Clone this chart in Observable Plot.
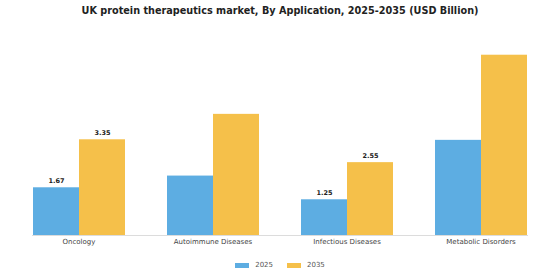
<!DOCTYPE html>
<html><head><meta charset="utf-8">
<script src="https://cdn.jsdelivr.net/npm/d3@7"></script>
<script src="https://cdn.jsdelivr.net/npm/@observablehq/plot@0.6"></script>
<style>
body{margin:0;background:#fff;font-family:"DejaVu Sans",sans-serif;width:560px;}
#title{height:22px;line-height:22px;text-align:center;font-weight:bold;font-size:9.7px;color:#222;}
#legend{height:26px;display:flex;justify-content:center;align-items:center;font-size:7px;color:#555;}
.item{display:flex;align-items:center;margin:0 7px;}
.sw{width:14px;height:5px;margin-right:6px;}
</style></head><body>
<div id="title">UK protein therapeutics market, By Application, 2025-2035 (USD Billion)</div>
<div id="chart"></div>
<div id="legend"></div>
<script>
const categories = ["Oncology", "Autoimmune Diseases", "Infectious Diseases", "Metabolic Disorders"];
const years = ["2025", "2035"];
const values2025 = [1.67, 2.08, 1.25, 3.33];
const values2035 = [3.35, 4.24, 2.55, 6.31];
const labelledCategories = ["Oncology", "Infectious Diseases"];
const colors = ["#5DADE2", "#F5C04A"];

const data = categories.flatMap((c, i) => [
  {category: c, year: years[0], value: values2025[i]},
  {category: c, year: years[1], value: values2035[i]}
]);

const chart = Plot.plot({
  width: 560, height: 230,
  marginLeft: 7, marginRight: 7, marginTop: 13, marginBottom: 17,
  fx: {domain: categories, paddingInner: 0.305, paddingOuter: 0.185, label: null},
  x: {domain: years, padding: 0, axis: null},
  y: {domain: [0, 7], axis: null},
  color: {domain: years, range: colors},
  style: {fontFamily: "DejaVu Sans", fontSize: "7px", color: "#333", background: "#fff"},
  marks: [
    Plot.frame({anchor: "bottom", stroke: "#dcdcdc", facet: "super"}),
    Plot.barY(data, {fx: "category", x: "year", y: "value", fill: "year"}),
    Plot.text(data.filter(d => labelledCategories.includes(d.category)), {
      fx: "category", x: "year", y: "value", text: d => d.value.toFixed(2),
      dy: -7, fontWeight: "bold", fontSize: 6.5, fill: "#222"
    }),
    Plot.axisFx({anchor: "bottom", tickSize: 0, tickPadding: 4, label: null, fontSize: 7, fill: "#444"})
  ]
});
document.getElementById("chart").appendChild(chart);

const legend = document.getElementById("legend");
years.forEach((y, i) => {
  const item = document.createElement("div");
  item.className = "item";
  const sw = document.createElement("div");
  sw.className = "sw";
  sw.style.background = colors[i];
  const t = document.createElement("span");
  t.textContent = y;
  item.appendChild(sw); item.appendChild(t);
  legend.appendChild(item);
});
</script>
</body></html>
